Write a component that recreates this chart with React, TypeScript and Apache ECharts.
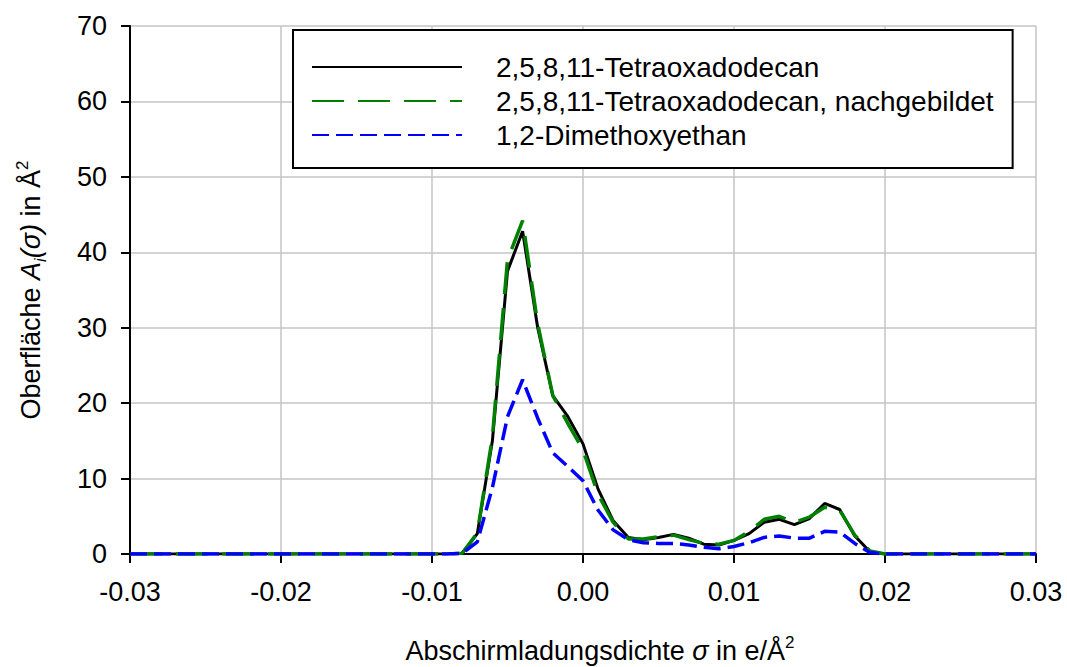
import React, { useEffect, useRef } from 'react';
import * as echarts from 'echarts';

// Screening charge density grid (e/Å²)
const sigma = [
  -0.03, -0.009, -0.008, -0.007, -0.006, -0.005, -0.004, -0.003, -0.002, -0.001,
  0.0, 0.001, 0.002, 0.003, 0.004, 0.005, 0.006, 0.007, 0.008, 0.009,
  0.01, 0.011, 0.012, 0.013, 0.014, 0.015, 0.016, 0.017, 0.018, 0.019,
  0.02, 0.03,
];

// Sigma profiles A_i(σ) in Å²
const tetraoxadodecan = [
  0, 0, 0.1, 2.7, 15.0, 37.5, 42.8, 30.0, 21.0, 18.2,
  14.6, 8.6, 4.4, 2.2, 1.9, 2.2, 2.6, 2.1, 1.3, 1.2,
  1.8, 2.7, 4.2, 4.6, 3.9, 4.7, 6.7, 5.9, 2.4, 0.3,
  0, 0,
];
const tetraoxadodecanNachgebildet = [
  0, 0, 0.1, 2.8, 15.5, 39.0, 44.2, 30.5, 21.0, 17.3,
  13.8, 7.9, 4.2, 2.0, 2.0, 2.3, 2.5, 1.9, 1.4, 1.3,
  1.8, 3.0, 4.6, 5.0, 4.2, 4.9, 6.2, 5.8, 2.5, 0.4,
  0, 0,
];
const dimethoxyethan = [
  0, 0, 0.1, 1.6, 8.8, 18.2, 23.1, 18.0, 13.4, 11.6,
  9.7, 5.8, 3.2, 1.9, 1.5, 1.4, 1.4, 1.2, 0.9, 0.7,
  1.0, 1.5, 2.2, 2.4, 2.1, 2.1, 3.0, 2.9, 1.4, 0.2,
  0, 0,
];

const seriesNames = [
  '2,5,8,11-Tetraoxadodecan',
  '2,5,8,11-Tetraoxadodecan, nachgebildet',
  '1,2-Dimethoxyethan',
];

const FONT = '"Liberation Sans", Arial, sans-serif';

export default function App() {
  const ref = useRef<HTMLDivElement>(null);

  useEffect(() => {
    if (!ref.current) return;
    const chart = echarts.init(ref.current, undefined, { renderer: 'svg' });
    const pairs = (vals: number[]) => sigma.map((s, i) => [s, vals[i]]);

    chart.setOption({
      animation: false,
      backgroundColor: '#ffffff',
      grid: { left: 130, right: 31, top: 26, bottom: 113 },
      xAxis: {
        type: 'value',
        min: -0.03,
        max: 0.03,
        interval: 0.01,
        axisLine: { show: true, onZero: false, lineStyle: { color: '#000', width: 2 } },
        axisTick: { show: true, inside: false, length: 9, lineStyle: { color: '#000', width: 2 } },
        axisLabel: {
          margin: 24,
          fontSize: 27,
          fontFamily: FONT,
          color: '#000',
          formatter: (v: number) => v.toFixed(2),
        },
        splitLine: { show: true, lineStyle: { color: '#c4c4c4', width: 1.5 } },
      },
      yAxis: {
        type: 'value',
        min: 0,
        max: 70,
        interval: 10,
        axisLine: { show: true, onZero: false, lineStyle: { color: '#000', width: 2 } },
        axisTick: { show: true, inside: false, length: 9, lineStyle: { color: '#000', width: 2 } },
        axisLabel: { margin: 23, fontSize: 27, fontFamily: FONT, color: '#000' },
        splitLine: { show: true, lineStyle: { color: '#c4c4c4', width: 1.5 } },
      },
      legend: {
        orient: 'vertical',
        left: 293,
        top: 30,
        data: seriesNames,
        itemWidth: 150,
        itemHeight: 14,
        itemGap: 4,
        padding: [22, 19, 18, 18],
        borderColor: '#000',
        borderWidth: 2,
        backgroundColor: '#fff',
        itemStyle: { opacity: 0 },
        textStyle: {
          fontSize: 28,
          fontFamily: FONT,
          color: '#000',
          lineHeight: 30,
          padding: [0, 0, 0, 29],
        },
      },
      graphic: [
        {
          type: 'text',
          x: 31,
          y: 290,
          rotation: Math.PI / 2,
          style: {
            text: '{n|Oberfläche }{it|A}{sub|i}{it|(σ)}{n| in Å}{sup|2}',
            align: 'center',
            verticalAlign: 'middle',
            fill: '#000',
            rich: {
              n: { fontSize: 27, fontFamily: FONT, fill: '#000', lineHeight: 34 },
              it: { fontSize: 27, fontFamily: FONT, fontStyle: 'italic', fill: '#000', lineHeight: 34 },
              sub: { fontSize: 16, fontFamily: FONT, fontStyle: 'italic', fill: '#000', lineHeight: 34, verticalAlign: 'bottom' },
              sup: { fontSize: 17, fontFamily: FONT, fill: '#000', lineHeight: 34, verticalAlign: 'top' },
            },
          },
        },
        {
          type: 'text',
          x: 600,
          y: 651,
          style: {
            text: '{n|Abschirmladungsdichte }{it|σ}{n| in e/Å}{sup|2}',
            align: 'center',
            verticalAlign: 'middle',
            fill: '#000',
            rich: {
              n: { fontSize: 27, fontFamily: FONT, fill: '#000', lineHeight: 34 },
              it: { fontSize: 27, fontFamily: FONT, fontStyle: 'italic', fill: '#000', lineHeight: 34 },
              sup: { fontSize: 17, fontFamily: FONT, fill: '#000', lineHeight: 34, verticalAlign: 'top' },
            },
          },
        },
      ],
      series: [
        {
          name: seriesNames[0],
          type: 'line',
          symbol: 'none',
          data: pairs(tetraoxadodecan),
          lineStyle: { color: '#000000', width: 3, type: 'solid' },
          itemStyle: { color: '#000000' },
          z: 2,
        },
        {
          name: seriesNames[1],
          type: 'line',
          symbol: 'none',
          data: pairs(tetraoxadodecanNachgebildet),
          lineStyle: { color: '#008000', width: 3.5, type: [32, 14] },
          itemStyle: { color: '#008000' },
          z: 3,
        },
        {
          name: seriesNames[2],
          type: 'line',
          symbol: 'none',
          data: pairs(dimethoxyethan),
          lineStyle: { color: '#0000ff', width: 3.5, type: [17, 7] },
          itemStyle: { color: '#0000ff' },
          z: 4,
        },
      ],
    });

    return () => chart.dispose();
  }, []);

  return (
    <div
      ref={ref}
      style={{ position: 'fixed', left: 0, top: 0, width: 1067, height: 667 }}
    />
  );
}
